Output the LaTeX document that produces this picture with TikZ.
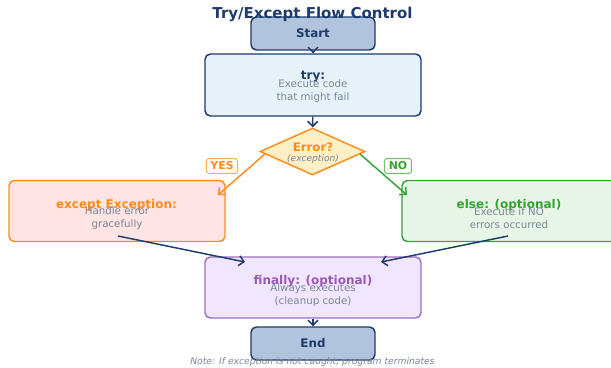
\documentclass[tikz,border=0pt]{standalone}
\usepackage{fontspec}
\setmainfont{DejaVu Sans}
\usetikzlibrary{positioning,shapes.geometric,arrows.meta}

\definecolor{navy}{HTML}{1F3B6B}
\definecolor{startfill}{HTML}{B0C4DE}
\definecolor{tryfill}{HTML}{E6F2F8}
\definecolor{orng}{HTML}{FF8C1A}
\definecolor{diafill}{HTML}{FFEFC5}
\definecolor{excfill}{HTML}{FFE4E4}
\definecolor{grn}{HTML}{36A336}
\definecolor{elsefill}{HTML}{E6F5E6}
\definecolor{purp}{HTML}{9B6FC7}
\definecolor{purptext}{HTML}{9B59B6}
\definecolor{finfill}{HTML}{F0E6FF}
\definecolor{note}{HTML}{7A8797}

\begin{document}
\begin{tikzpicture}[x=0.75pt,y=-0.75pt,
    box/.style={draw, rounded corners=4pt, line width=1.1pt, inner sep=0pt},
    endbox/.style={box, draw=navy, fill=startfill, minimum width=93pt, minimum height=24.75pt,
        text=navy, font=\bfseries\fontsize{8.9}{10}\selectfont},
    bigbox/.style={box, minimum width=162pt, minimum height=45.75pt},
    head/.style={font=\bfseries\fontsize{9}{10}\selectfont},
    body/.style={text=note, align=center, font=\fontsize{7.7}{9.75}\selectfont},
    tag/.style={draw, fill=white, rounded corners=2pt, line width=0.8pt, minimum height=11.25pt,
        inner sep=0pt, font=\bfseries\fontsize{8.2}{9}\selectfont},
    flow/.style={line width=1.1pt, -{Straight Barb[length=3.8pt,width=7.5pt]}}]

        \useasboundingbox (0,0) rectangle (611,368);

        \coordinate (yesstart) at (265,154);
        \coordinate (nostart) at (360,154);
        \coordinate (yesend) at (218,195);
        \coordinate (noend) at (407,195);
        \coordinate (excout) at (118,236);
        \coordinate (elseout) at (508,236);
        \coordinate (finleft) at (245,262);
        \coordinate (finright) at (381,262);

        % boxes
        \node[endbox] (start) at (313,33.5) {Start};
        \node[bigbox, draw=navy, fill=tryfill, minimum height=46.5pt] (try) at (313,85) {};
        \node[diamond, draw=orng, fill=diafill, line width=1.1pt, inner sep=0pt,
            minimum width=78.75pt, minimum height=35.25pt] (err) at (312.5,151.5) {};
        \node[bigbox, draw=orng, fill=excfill] (except) at (117,211) {};
        \node[bigbox, draw=grn, fill=elsefill] (else) at (510,211) {};
        \node[bigbox, draw=purp, fill=finfill] (finally) at (313,287.5) {};
        \node[endbox] (end) at (313,343.5) {End};

        % texts
        \node[head, text=navy] (trytitle) at (313,77) {try:};
        \node[body] (trybody) at (313,91.5) {Execute code\\that might fail};
        \node[head, text=orng, font=\bfseries\fontsize{8.8}{10}\selectfont] (errtitle) at (313,147) {Error?};
        \node[text=note, font=\itshape\fontsize{6.8}{8}\selectfont] (errsub) at (313,159) {(exception)};
        \node[head, text=orng] (exctitle) at (116.5,205) {except Exception:};
        \node[body] (excbody) at (117,218.5) {Handle error\\gracefully};
        \node[head, text=grn] (elsetitle) at (509,205) {else: (optional)};
        \node[body] (elsebody) at (509,218.5) {Execute if NO\\errors occurred};
        \node[head, text=purptext] (fintitle) at (313,281) {finally: (optional)};
        \node[body] (finbody) at (313,295.5) {Always executes\\(cleanup code)};

        % connectors
        \path[draw=navy, flow] (start) -- (try);
        \path[draw=navy, flow] (try) -- (err);
        \path[draw=orng, flow] (yesstart) -- (yesend);
        \path[draw=grn, flow] (nostart) -- (noend);
        \path[draw=navy, flow] (excout) -- (finleft);
        \path[draw=navy, flow] (elseout) -- (finright);
        \path[draw=navy, flow] (finally) -- (end);

        \node[tag, draw=orng!70, text=orng, minimum width=23.25pt] (yes) at (222,166) {YES};
        \node[tag, draw=grn!70, text=grn, minimum width=20.25pt] (no) at (398,166) {NO};

        \node[text=note, font=\itshape\fontsize{6.9}{8}\selectfont] (note) at (312.5,362)
            {Note: If exception is not caught, program terminates};
        \node[text=navy, font=\bfseries\fontsize{11.25}{13}\selectfont] (title) at (312.5,14)
            {Try/Except Flow Control};

\end{tikzpicture}
\end{document}
